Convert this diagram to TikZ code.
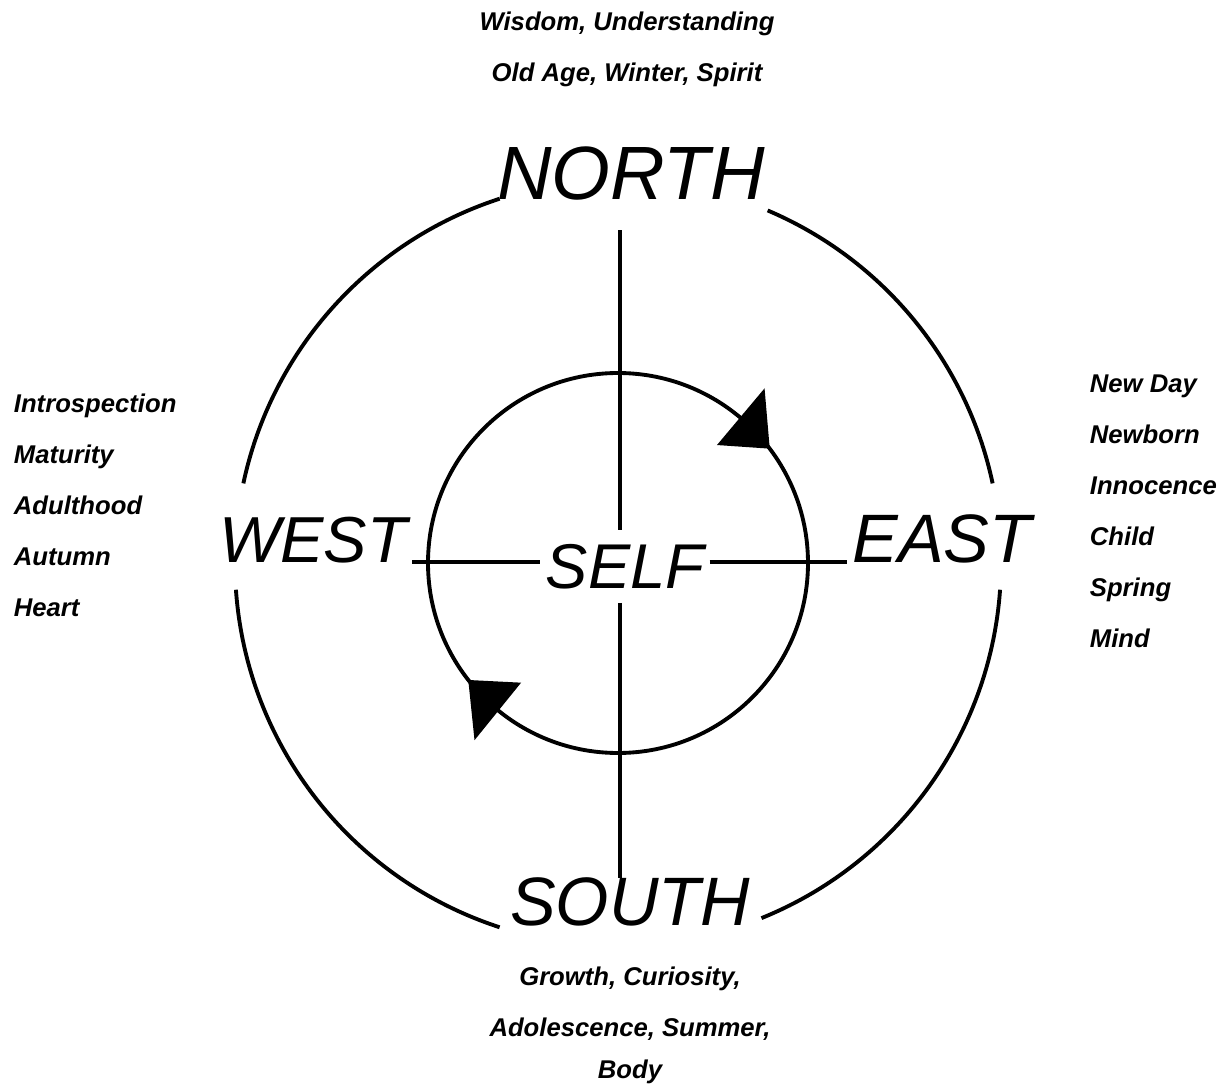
\documentclass[tikz,border=0pt]{standalone}
\usepackage{fontspec}
\newfontfamily\handfont{Liberation Sans}
\usetikzlibrary{calc}

\begin{document}
\begin{tikzpicture}[
    x=0.1mm, y=0.1mm,
    line width=1.1pt,
    dir style/.style={font=\handfont\itshape\fontsize{#1}{#1}\selectfont, inner xsep=1pt, inner ysep=1pt, anchor=base},
    dir style/.default=19.5,
    word style/.style={font=\handfont\bfseries\itshape\fontsize{7.3}{14.5}\selectfont, inner sep=0pt}
]

% SAME BOUNDING BOX
\path[use as bounding box] (0,0) rectangle (1219,1089);

\coordinate (C) at (618,526);

% OUTER RING
\foreach \a/\b in {12/67, 108/168, 184/252, 292/356}
    \draw ([shift={(\a:383)}]C) arc[start angle=\a, end angle=\b, radius=383];

% INNER RING
\draw (C) circle[radius=190];
\foreach \t in {37, 218}
    \fill ([shift={(\t:190)}]C) -- ([shift={(\t+13:228)}]C) -- ([shift={(\t+13:154)}]C) -- cycle;

\node[dir style=21.5] (north) at (631,889) {NORTH};
\node[dir style] (south) at (630,164) {SOUTH};
\node[dir style=18.5] (west) at (313,527) {WEST};
\node[dir style] (east) at (942,527) {EAST};
\node[dir style=18, inner ysep=3.5pt] (self) at (625,501) {SELF};

\coordinate (ntop) at (620,859);
\coordinate (sbot) at (620,211);

\draw (ntop) -- (ntop |- self.north);
\draw (sbot |- self.south) -- (sbot);
\draw (west.base east) -- (west.base east -| self.west);
\draw (self.east |- east.base west) -- (east.base west);

\node[word style, anchor=north, align=center] (northwords) at (627,1079) {Wisdom, Understanding\\Old Age, Winter, Spirit};
\node[word style, anchor=north west, align=left] (westwords) at (12,697) {Introspection\\Maturity\\Adulthood\\Autumn\\Heart};
\node[word style, anchor=north west, align=left] (eastwords) at (1088,716) {New Day\\Newborn\\Innocence\\Child\\Spring\\Mind};
\node[word style, anchor=north, align=center] (southwords) at (630,124) {Growth, Curiosity,\\Adolescence, Summer,\\[-2.5pt]Body};

\end{tikzpicture}
\end{document}
